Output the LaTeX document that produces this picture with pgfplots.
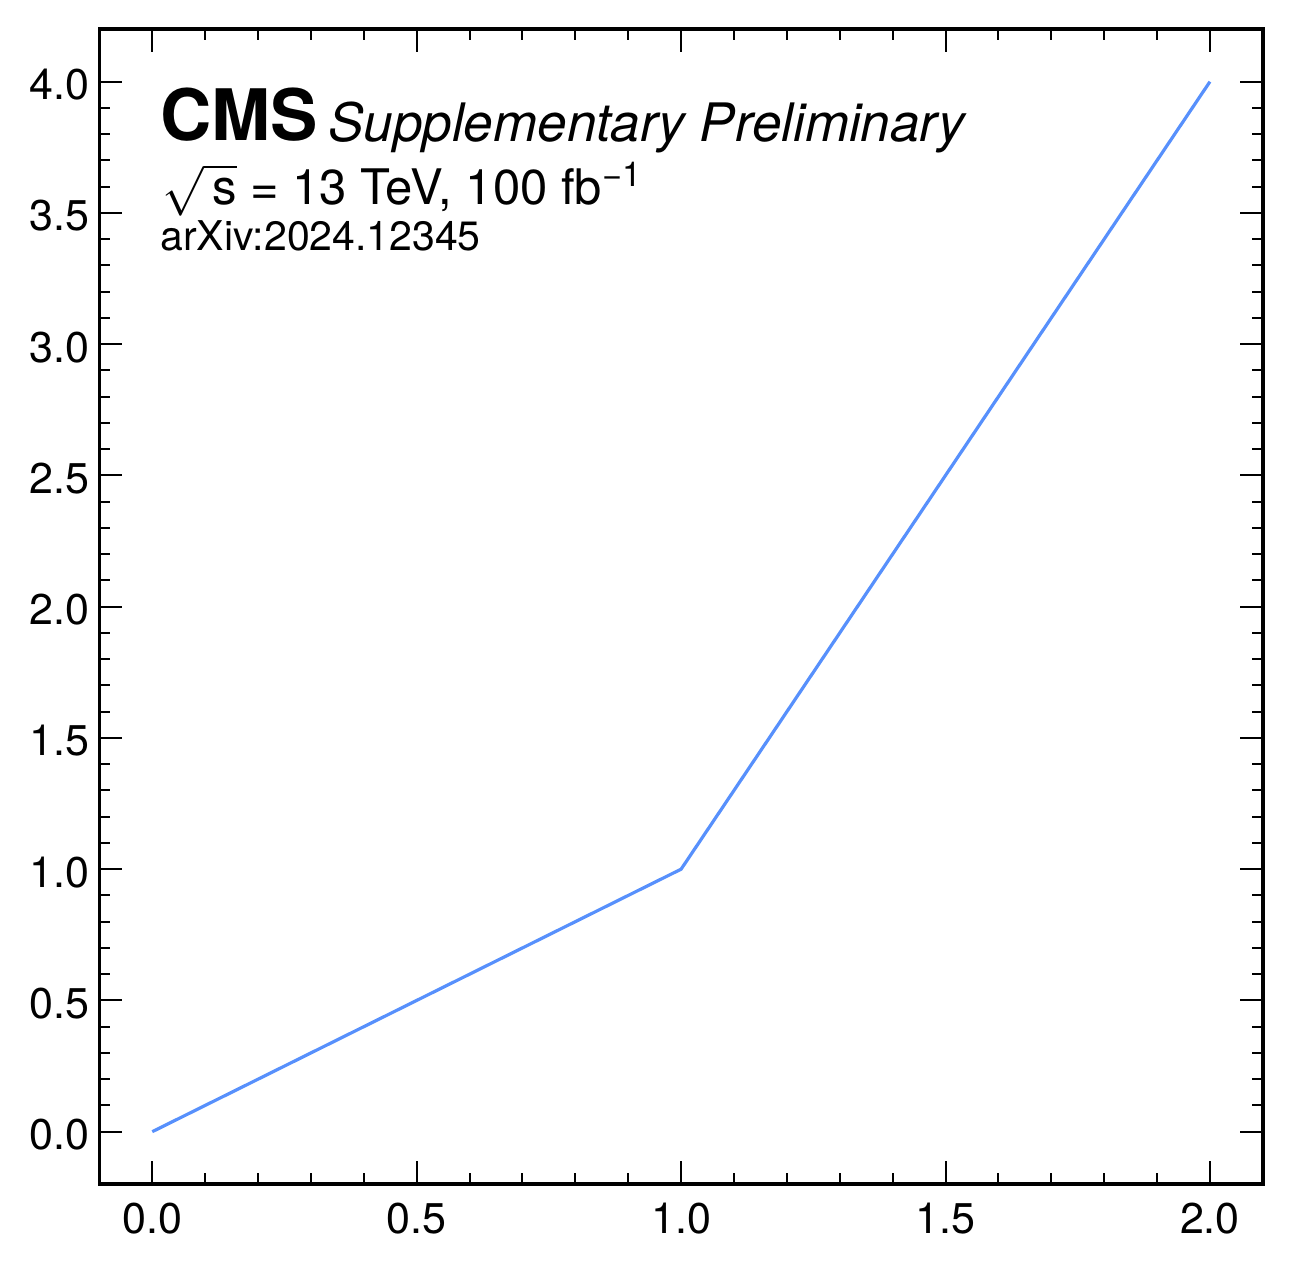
\documentclass[border=0pt]{standalone}
\usepackage{pgfplots}
\pgfplotsset{compat=1.18}
\usepackage{fontspec}
\setmainfont{TeX Gyre Heros}
\definecolor{cmsblue}{HTML}{5790FC}
\begin{document}
\begin{tikzpicture}
\path[use as bounding box] (-49.7pt,-43.9pt) rectangle (596.3pt,592.1pt);
\begin{axis}[
  scale only axis,
  width=581.7pt, height=577.5pt,
  xmin=-0.1, xmax=2.1, ymin=-0.2, ymax=4.2,
  xtick={0,0.5,1,1.5,2}, ytick={0,0.5,1,1.5,2,2.5,3,3.5,4},
  minor tick num=4,
  tick align=inside,
  xtick pos=both, ytick pos=both,
  major tick length=11.5pt, minor tick length=5.5pt,
  every tick/.style={black, line width=1pt},
  axis line style={black, line width=1.75pt},
  tick label style={font=\fontsize{21.5}{24}\selectfont},
  /pgf/number format/assume math mode=true,
  /pgf/number format/.cd, fixed, fixed zerofill, precision=1, /pgfplots/.cd,
  xticklabel style={inner sep=0pt, yshift=-9pt},
  yticklabel style={inner sep=0pt, xshift=-4.75pt, yshift=-1.5pt},
  xticklabel pos=lower, yticklabel pos=left,
]
\addplot[cmsblue, line width=1.6pt, mark=none] coordinates {(0,0) (1,1) (2,4)};
\end{axis}
\node[anchor=base west, inner sep=0pt, font=\fontsize{35.5}{38}\selectfont\bfseries] at (30.3pt,522pt) {CMS};
\node[anchor=base west, inner sep=0pt, font=\fontsize{26.5}{29}\selectfont\itshape] at (114.3pt,521.3pt) {Supplementary Preliminary};
\node[anchor=base west, inner sep=0pt, font=\fontsize{24.5}{27}\selectfont] at (31.3pt,489.6pt) {$\sqrt{\vphantom{\mbox{Tg}}\mbox{\,s}}$ = 13 TeV, 100 fb\textsuperscript{\textminus1}};
\node[anchor=base west, inner sep=0pt, font=\fontsize{20.5}{23}\selectfont] at (30.3pt,466.6pt) {arXiv:2024.12345};
\end{tikzpicture}
\end{document}
